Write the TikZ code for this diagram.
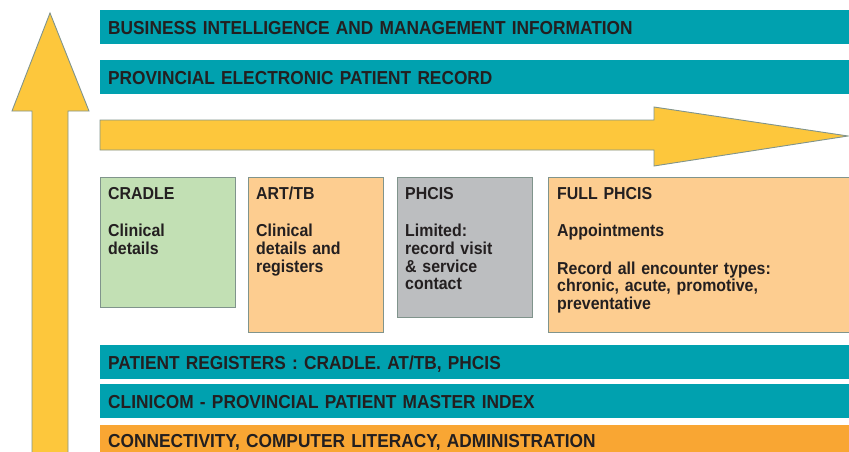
\documentclass[tikz,border=0pt]{standalone}
\usepackage{fontspec}
\setmainfont{Liberation Sans}
\newfontfamily\narrowsans[FakeStretch=0.92]{Liberation Sans}

\definecolor{bandteal}{RGB}{0,161,175}
\definecolor{bandorange}{RGB}{249,166,51}
\definecolor{arrowyellow}{RGB}{253,199,60}
\definecolor{cardgreen}{RGB}{194,224,180}
\definecolor{cardorange}{RGB}{253,205,144}
\definecolor{cardgrey}{RGB}{188,190,192}
\definecolor{edgegrey}{RGB}{128,148,140}
\definecolor{inktext}{RGB}{35,31,32}

\tikzset{
	band/.style={fill=bandteal, anchor=north west, minimum width=749pt, minimum height=34pt,
		inner xsep=8pt, inner ysep=0pt, text width=733pt, align=left,
		text height=14.6pt, text depth=0pt, text=inktext,
		font=\narrowsans\fontsize{18.8}{20}\selectfont\bfseries},
	card/.style={draw=edgegrey, line width=1.2pt, anchor=north west, inner sep=0pt},
	cardtext/.style={anchor=base west, inner sep=0pt, text width=125pt, align=left, text=inktext,
		font=\narrowsans\fontsize{17.3}{17.8}\selectfont\bfseries},
	bigarrow/.style={fill=arrowyellow, draw=edgegrey, line width=0.9pt}
}

\begin{document}
\begin{tikzpicture}[x=1pt, y=-1pt]
			\useasboundingbox (0,0) rectangle (849,452);

			% upward arrow on the left
			\draw [bigarrow] (32,460) -- (32,111) -- (12,111) -- (50,13) -- (89,111) -- (68,111) -- (68,460) ;

			% top bands
			\node [band] (bizband) at (100,10) {BUSINESS INTELLIGENCE AND MANAGEMENT INFORMATION} ;
			\node [band] (eprband) at (100,60) {PROVINCIAL ELECTRONIC PATIENT RECORD} ;

			% arrow to the right
			\draw [bigarrow] (100,120) -- (654,120) -- (654,107) -- (848,136) -- (654,166) -- (654,150) -- (100,150) -- cycle ;

			% system boxes
			\node [card, fill=cardgreen, minimum width=135pt, minimum height=130pt] (cradle) at (100,177) {} ;
			\node [card, fill=cardorange, minimum width=135pt, minimum height=155pt] (arttb) at (248,177) {} ;
			\node [card, fill=cardgrey, minimum width=135pt, minimum height=140pt] (phcis) at (397,177) {} ;
			\node [card, fill=cardorange, minimum width=310pt, minimum height=155pt] (fullphcis) at (548,177) {} ;

			% box texts
			\node [cardtext] (cradletext) at (108,199) {CRADLE\\[19.7pt]Clinical\\details} ;
			\node [cardtext] (arttbtext) at (256,199) {ART/TB\\[19.7pt]Clinical\\details and\\registers} ;
			\node [cardtext] (phcistext) at (405,199) {PHCIS\\[19.7pt]Limited:\\record visit\\\& service\\contact} ;
			\node [cardtext, text width=280pt] (fullphcistext) at (557,199) {FULL PHCIS\\[19.7pt]Appointments\\[19.7pt]Record all encounter types:\\chronic, acute, promotive,\\preventative} ;

			% bottom bands
			\node [band] (regband) at (100,345) {PATIENT REGISTERS : CRADLE. AT/TB, PHCIS} ;
			\node [band] (clinicomband) at (100,384) {CLINICOM - PROVINCIAL PATIENT MASTER INDEX} ;
			\node [band, fill=bandorange, text height=10.6pt] (connectband) at (100,425) {CONNECTIVITY, COMPUTER LITERACY, ADMINISTRATION} ;

		\end{tikzpicture}
\end{document}
